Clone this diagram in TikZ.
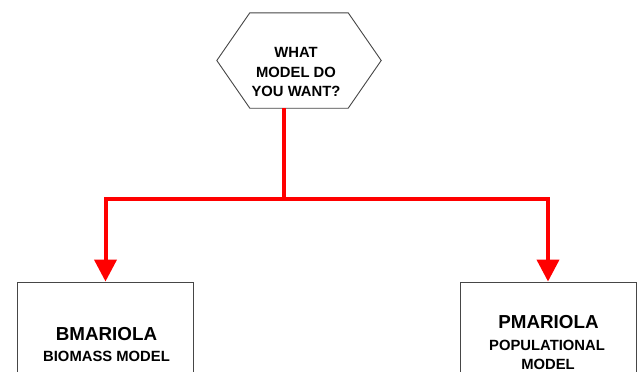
\documentclass[tikz,border=0pt]{standalone}
\usepackage{fontspec}
\setmainfont{Liberation Sans}
\usetikzlibrary{arrows.meta}
\definecolor{edgegray}{RGB}{70,70,70}
\tikzset{
  boxnode/.style={draw=edgegray, line width=0.9pt, fill=white, minimum width=176pt, minimum height=120pt, inner sep=0pt},
  hexframe/.style={draw=edgegray, line width=0.9pt, fill=white},
  conn/.style={draw=red, line width=4pt, -{Triangle[width=22pt,length=22pt]}},
  smalltxt/.style={anchor=base, inner sep=0pt, font=\fontsize{14.8}{18}\selectfont\bfseries},
  bigtxt/.style={anchor=base, inner sep=0pt, font=\fontsize{18.8}{21}\selectfont\bfseries},
}
\begin{document}
\begin{tikzpicture}[x=1pt,y=-1pt]
\useasboundingbox (0,0) rectangle (637,372);
% hexagon
\node[minimum width=98pt, minimum height=95pt, inner sep=0pt] (q) at (299,60.5) {};
\draw[hexframe] (q.north west) -- (q.north east) -- ([xshift=33pt]q.east) -- (q.south east) -- (q.south west) -- ([xshift=-33pt]q.west) -- cycle;
\node[smalltxt] (q1) at (296,57.5) {WHAT};
\node[smalltxt] (q2) at (296,77.2) {MODEL DO};
\node[smalltxt] (q3) at (296,96.8) {YOU WANT?};
% boxes
\node[boxnode] (b1) at (105.5,342) {};
\node[bigtxt] (b1a) at (106.5,340) {BMARIOLA};
\node[smalltxt] (b1b) at (106.5,361) {BIOMASS MODEL};
\node[boxnode] (b2) at (548,342) {};
\node[bigtxt] (b2a) at (548.5,328) {PMARIOLA};
\node[smalltxt] (b2b) at (547,350) {POPULATIONAL};
\node[smalltxt] (b2c) at (548,369) {MODEL};
% connectors
\coordinate (s) at ([xshift=-15pt]q.south);
\draw[conn] (s) -- ++(0,90.5) -| (b1.north);
\draw[conn] (s) -- ++(0,90.5) -| (b2.north);
\end{tikzpicture}
\end{document}
